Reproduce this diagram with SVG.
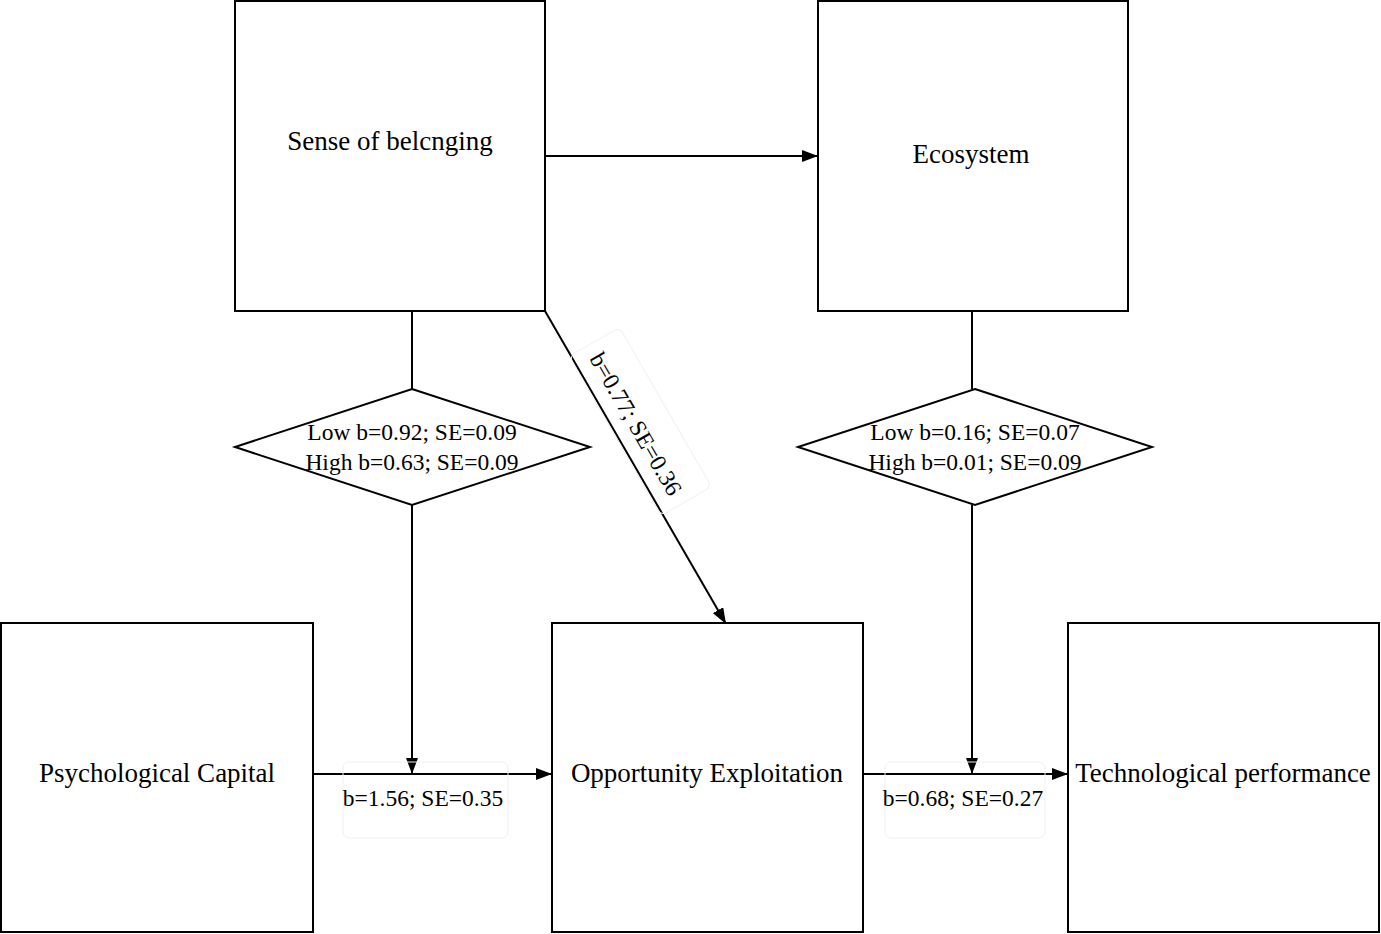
<svg xmlns="http://www.w3.org/2000/svg" width="1381" height="934" viewBox="0 0 1381 934">
<style>
.box{fill:#fff;stroke:#000;stroke-width:2}
.t{font-family:"Liberation Serif",serif;font-size:27px;fill:#000;text-anchor:middle}
.s{font-family:"Liberation Serif",serif;font-size:23.5px;fill:#000;text-anchor:middle}
.ln{stroke:#000;stroke-width:2;fill:none}
.lb{fill:none;stroke:#f0f0f0;stroke-width:1}
</style>
<defs>
<marker id="a" viewBox="0 0 16 12" refX="16" refY="6" markerWidth="16" markerHeight="12" markerUnits="userSpaceOnUse" orient="auto">
<path d="M0,0 L16,6 L0,12 z" fill="#000"/>
</marker>
</defs>
<rect width="1381" height="934" fill="#fff"/>
<g id="connectors">
<line class="ln" x1="545" y1="156" x2="818" y2="156" marker-end="url(#a)"/>
<line class="ln" x1="412" y1="311" x2="412" y2="389"/>
<line class="ln" x1="412" y1="505" x2="412" y2="774" marker-end="url(#a)"/>
<line class="ln" x1="972" y1="311" x2="972" y2="389"/>
<line class="ln" x1="972" y1="505" x2="972" y2="774" marker-end="url(#a)"/>
<line class="ln" x1="313" y1="774" x2="552" y2="774" marker-end="url(#a)"/>
<line class="ln" x1="863" y1="774" x2="1068" y2="774" marker-end="url(#a)"/>
<line class="ln" x1="545" y1="311" x2="726" y2="624" marker-end="url(#a)"/>
<rect class="lb" x="343" y="762" width="165" height="76" rx="6"/>
<text class="s" x="423" y="806">b=1.56; SE=0.35</text>
<rect class="lb" x="885" y="762" width="160" height="76" rx="6"/>
<text class="s" x="963" y="806">b=0.68; SE=0.27</text>
<g transform="translate(636,424) rotate(60)">
<rect class="lb" x="-92" y="-34" width="184" height="58" rx="6"/>
<text class="s" x="0" y="8">b=0.77; SE=0.36</text>
</g>
</g>
<g id="sense">
<rect class="box" x="235" y="1" width="310" height="310"/>
<text class="t" x="390" y="150">Sense of belcnging</text>
</g>
<g id="ecosystem">
<rect class="box" x="818" y="1" width="310" height="310"/>
<text class="t" x="971" y="163">Ecosystem</text>
</g>
<g id="mod1">
<polygon class="box" points="412,389 590,447 412,505 235,447"/>
<text class="s" x="412" y="440">Low b=0.92; SE=0.09</text>
<text class="s" x="412" y="470">High b=0.63; SE=0.09</text>
</g>
<g id="mod2">
<polygon class="box" points="975,389 1152,447 975,505 798,447"/>
<text class="s" x="975" y="440">Low b=0.16; SE=0.07</text>
<text class="s" x="975" y="470">High b=0.01; SE=0.09</text>
</g>
<g id="psycap">
<rect class="box" x="1" y="623" width="312" height="309"/>
<text class="t" x="157" y="782">Psychological Capital</text>
</g>
<g id="opp">
<rect class="box" x="552" y="623" width="311" height="309"/>
<text class="t" x="707" y="782">Opportunity Exploitation</text>
</g>
<g id="tech">
<rect class="box" x="1068" y="623" width="311" height="309"/>
<text class="t" x="1223" y="782">Technological performance</text>
</g>
</svg>
